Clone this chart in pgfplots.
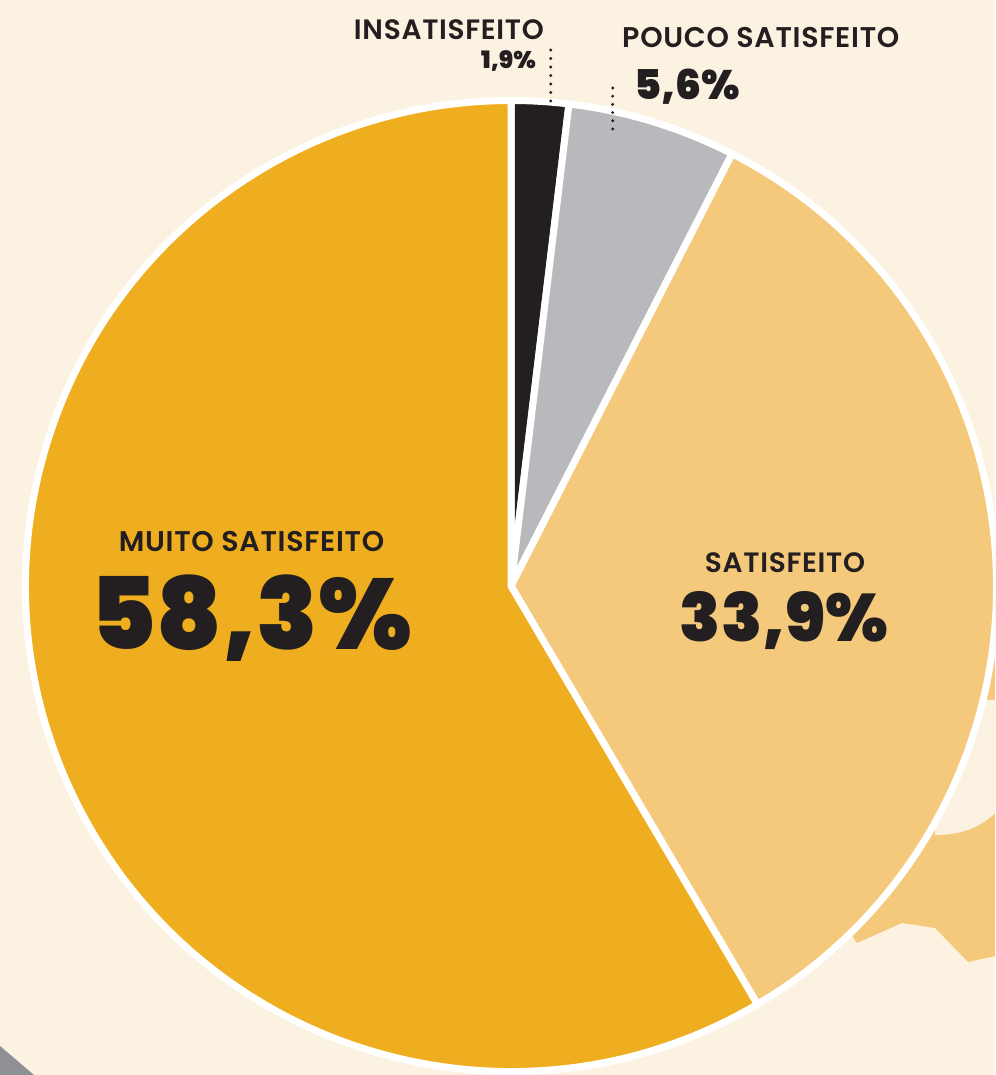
\documentclass[border=0pt]{standalone}
\usepackage{pgfplots}
\pgfplotsset{compat=1.18}
\usepackage{pgfplotstable}
\usepackage{fontspec}
\setmainfont{Poppins}[BoldFont={* SemiBold}, BoldFeatures={LetterSpace=2.5}]
\newfontfamily\blackfont{Poppins}[UprightFont={* Black}]
\definecolor{bgc}{HTML}{FBF2E2}
\definecolor{muito}{HTML}{EFAE1F}
\definecolor{satis}{HTML}{F5C97B}
\definecolor{pouco}{HTML}{B8B9BC}
\definecolor{insat}{HTML}{231F20}
\definecolor{txt}{HTML}{231F20}
\definecolor{decogray}{HTML}{8F9094}
\pgfplotstableread{
cat value
Insatisfeito 1.9
Pouco 5.6
Satisfeito 33.9
Muito 58.3
}\piedata
\newcommand\sector[3]{%
  \fill[#3, draw=white, line width=7pt, line join=round]
    (axis cs:511,489) -- (axis cs:{511+485.5*cos(#1)},{489+485.5*sin(#1)})
    arc[start angle=#1, end angle=#2, radius=485.5] -- cycle;}
\begin{document}%
\pgfplotstablegetelem{0}{value}\of\piedata\edef\vA{\pgfplotsretval}%
\pgfplotstablegetelem{1}{value}\of\piedata\edef\vB{\pgfplotsretval}%
\pgfplotstablegetelem{2}{value}\of\piedata\edef\vC{\pgfplotsretval}%
\pgfplotstablegetelem{3}{value}\of\piedata\edef\vD{\pgfplotsretval}%
\pgfmathsetmacro\tot{\vA+\vB+\vC+\vD}%
\pgfmathsetmacro\aA{90}%
\pgfmathsetmacro\aB{90-(\vA/\tot)*360}%
\pgfmathsetmacro\aC{\aB-(\vB/\tot)*360}%
\pgfmathsetmacro\aD{\aC-(\vC/\tot)*360}%
\pgfmathsetmacro\aE{\aD-(\vD/\tot)*360}%
\begin{tikzpicture}
\begin{axis}[
  width=995pt, height=1075pt, scale only axis,
  xmin=0, xmax=995, ymin=0, ymax=1075,
  hide axis, clip=true,
]
% background
\fill[bgc] (axis cs:0,0) rectangle (axis cs:995,1075);
% decorative blob
\fill[satis] (axis cs:960,475) -- (axis cs:1000,475) -- (axis cs:1000,120)
  -- (axis cs:968,113) -- (axis cs:935,147) -- (axis cs:902,152)
  -- (axis cs:857,132) -- (axis cs:845,150) -- (axis cs:900,375) -- cycle;
\fill[bgc] (axis cs:935,375) -- (axis cs:1000,375) -- (axis cs:1000,267)
  .. controls (axis cs:985,250) and (axis cs:965,240) .. (axis cs:935,240) -- cycle;
% gray triangle
\fill[decogray] (axis cs:0,29) -- (axis cs:34,0) -- (axis cs:0,0) -- cycle;
% pie
\sector{\aA}{\aB}{insat}
\sector{\aB}{\aC}{pouco}
\sector{\aC}{\aD}{satis}
\sector{\aD}{\aE}{muito}
% dotted leaders
\draw[txt, line width=3.2pt, line cap=round, dash pattern=on 0pt off 8.5pt]
  (axis cs:550.7,1025) -- (axis cs:550.7,971);
\draw[txt, line width=3.2pt, line cap=round, dash pattern=on 0pt off 8.2pt]
  (axis cs:612.7,987) -- (axis cs:612.7,938);
% labels
\node[anchor=base east, inner sep=0pt, text=txt, font=\bfseries\fontsize{28}{28}\selectfont] at (axis cs:544,1035) {INSATISFEITO};
\node[anchor=base east, inner sep=0pt, text=txt, font=\blackfont\fontsize{24}{24}\selectfont] at (axis cs:536,1006) {1,9\%};
\node[anchor=base west, inner sep=0pt, text=txt, font=\bfseries\fontsize{28.5}{28.5}\selectfont] at (axis cs:622,1027) {POUCO SATISFEITO};
\node[anchor=base west, inner sep=0pt, text=txt, font=\blackfont\fontsize{41}{41}\selectfont] at (axis cs:634,975) {5,6\%};
\node[anchor=base, inner sep=0pt, text=txt, font=\bfseries\fontsize{28.5}{28.5}\selectfont] at (axis cs:251.5,523) {MUITO SATISFEITO};
\node[anchor=base, inner sep=0pt, text=txt, font=\blackfont\fontsize{100}{100}\selectfont] at (axis cs:251.5,425) {58,3\%};
\node[anchor=base, inner sep=0pt, text=txt, font=\bfseries\fontsize{28}{28}\selectfont] at (axis cs:785,502) {SATISFEITO};
\node[anchor=base, inner sep=0pt, text=txt, font=\blackfont\fontsize{67}{67}\selectfont] at (axis cs:784,433) {33,9\%};
\end{axis}
\end{tikzpicture}
\end{document}
